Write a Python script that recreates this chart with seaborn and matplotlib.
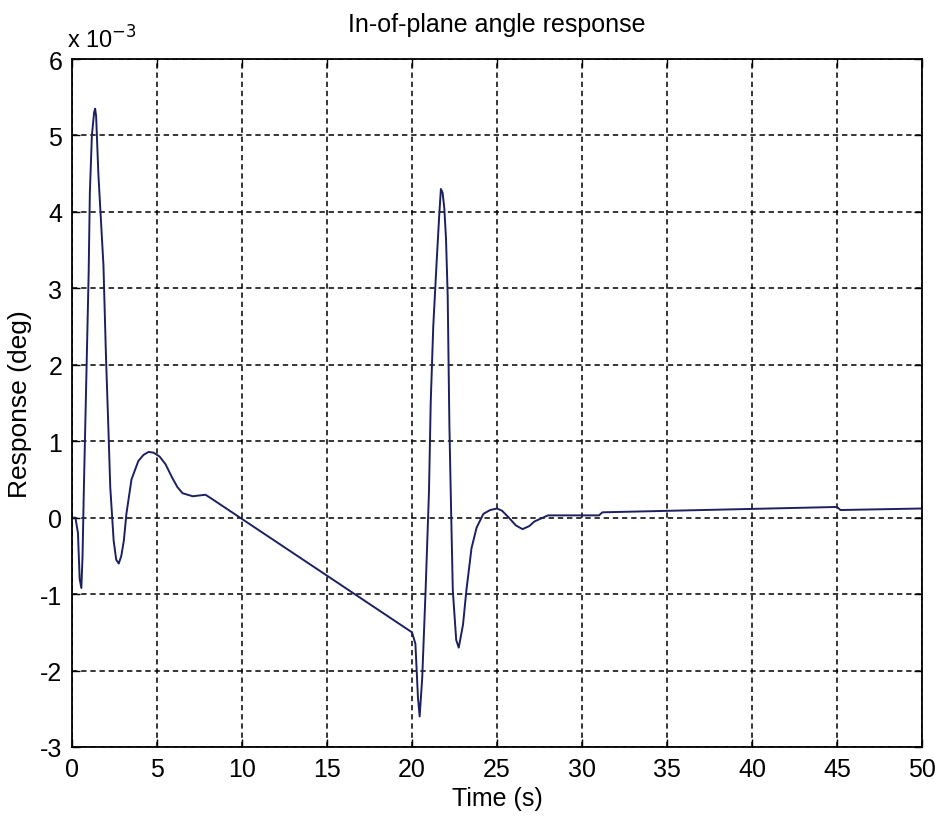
import matplotlib
matplotlib.use("Agg")
import matplotlib.pyplot as plt
import seaborn as sns
import pandas as pd

# Response of the in-plane angle (values in units of 1e-3 deg)
time_s = [0.0, 0.2, 0.35, 0.45, 0.55, 0.62, 0.7, 0.86, 0.98, 1.05, 1.17, 1.3,
          1.36, 1.42, 1.55, 1.85, 2.0, 2.15, 2.25, 2.45, 2.6, 2.75, 2.9, 3.05,
          3.2, 3.5, 3.9, 4.2, 4.5, 4.8, 5.15, 5.5, 5.9, 6.2, 6.5, 7.1, 7.85,
          8.2, 20.0, 20.2, 20.35, 20.45, 20.6, 20.8, 21.0, 21.1, 21.25, 21.45,
          21.6, 21.7, 21.8, 21.9, 22.0, 22.1, 22.2, 22.3, 22.4, 22.6, 22.75,
          23.0, 23.2, 23.5, 23.8, 24.2, 24.6, 25.0, 25.3, 25.7, 26.1, 26.5,
          26.9, 27.2, 28.0, 30.0, 31.0, 31.2, 45.0, 45.2, 50.0]
response_milli_deg = [0.0, 0.0, -0.2, -0.8, -0.92, -0.5, 0.4, 2.0, 3.2, 4.25,
                      5.0, 5.3, 5.35, 5.25, 4.5, 3.3, 2.1, 1.1, 0.4, -0.3,
                      -0.55, -0.6, -0.5, -0.3, 0.05, 0.5, 0.74, 0.82, 0.86,
                      0.85, 0.8, 0.7, 0.52, 0.4, 0.32, 0.28, 0.3, 0.25, -1.5,
                      -1.65, -2.35, -2.6, -2.1, -0.95, 0.35, 1.5, 2.5, 3.35,
                      3.95, 4.3, 4.25, 4.05, 3.65, 2.9, 1.2, 0.1, -0.95, -1.6,
                      -1.7, -1.4, -0.95, -0.4, -0.13, 0.05, 0.1, 0.12, 0.09,
                      0.0, -0.1, -0.15, -0.11, -0.05, 0.03, 0.03, 0.03, 0.07,
                      0.14, 0.1, 0.12]

x_ticks = [0, 5, 10, 15, 20, 25, 30, 35, 40, 45, 50]
y_ticks = [-3, -2, -1, 0, 1, 2, 3, 4, 5, 6]

sns.set_theme(style="white")
plt.rcParams["font.family"] = ["Liberation Sans", "DejaVu Sans"]
plt.rcParams["text.color"] = "black"
plt.rcParams["axes.labelcolor"] = "black"

df = pd.DataFrame({"Time (s)": time_s, "Response": response_milli_deg})

fig = plt.figure(figsize=(9.35, 8.2), dpi=100)
ax = fig.add_axes([72 / 935, 1 - 748 / 820, 850 / 935, (748 - 60) / 820])

sns.lineplot(data=df, x="Time (s)", y="Response", ax=ax, color="#1c2060",
             linewidth=1.4, sort=False, estimator=None)

ax.set_xlim(0, 50)
ax.set_ylim(-3, 6)
ax.set_xticks(x_ticks)
ax.set_yticks(y_ticks)
ax.set_xticklabels([str(v) for v in x_ticks], fontsize=18)
ax.set_yticklabels([str(v) for v in y_ticks], fontsize=18)

ax.grid(True, color="black", linestyle=(0, (3.5, 2.5)), linewidth=1.1)
ax.tick_params(direction="in", length=6, width=1, top=True, right=True,
               bottom=True, left=True, pad=7, colors="black",
               labelcolor="black")
for side in ax.spines.values():
    side.set_color("black")
    side.set_linewidth(1.3)

ax.set_xlabel("Time (s)", fontsize=18, labelpad=4, color="black")
ax.set_ylabel("Response (deg)", fontsize=19, labelpad=6, color="black")
ax.set_title("In-of-plane angle response", fontsize=18, pad=20,
             color="black")
ax.text(-0.3, 6.15, r"x 10$^{-3}$", fontsize=17, ha="left", va="baseline",
        color="black")

fig.savefig("out.png", dpi=100)
